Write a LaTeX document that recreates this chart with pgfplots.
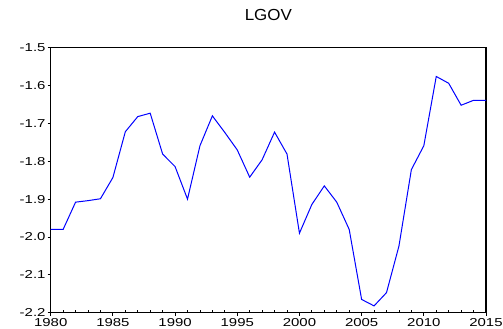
\documentclass[border=0pt]{standalone}
\usepackage{fontspec}
\setmainfont{Liberation Sans}
\newfontfamily\tickfont[FakeStretch=1.3]{Liberation Sans}
\newfontfamily\titlefont[FakeStretch=1.06]{Liberation Sans}
\usepackage{pgfplots}
\pgfplotsset{compat=1.18}
\begin{document}
\begin{tikzpicture}
\begin{axis}[
  name=ax,
  at={(0,0)}, anchor=south west,
  scale only axis,
  width=435.3pt, height=265pt,
  xmin=1980, xmax=2015,
  ymin=-2.2, ymax=-1.5,
  axis line style={black, line width=1.1pt},
  xtick={1980,1985,1990,1995,2000,2005,2010,2015},
  xticklabels={1980,1985,1990,1995,2000,2005,2010,2015},
  ytick={-2.2,-2.1,-2.0,-1.9,-1.8,-1.7,-1.6,-1.5},
  yticklabels={-2.2,-2.1,-2.0,-1.9,-1.8,-1.7,-1.6,-1.5},
  minor x tick num=4,
  xtick pos=bottom, ytick pos=left,
  tick align=outside,
  major tick length=3pt,
  minor tick length=2.5pt,
  minor x tick style={yshift=2.5pt},
  tick style={black, line width=0.8pt},
  xticklabel style={font=\tickfont\fontsize{11.5}{12}\selectfont, anchor=north, inner sep=0pt, yshift=-2.5pt},
  yticklabel style={font=\tickfont\fontsize{11.5}{12}\selectfont, anchor=east, inner sep=0pt, xshift=-2pt},
  title={LGOV},
  title style={font=\titlefont\fontsize{16}{16}\selectfont, at={(0.5,1)}, anchor=base, yshift=20.7pt, inner sep=0pt},
  clip=false,
]
\addplot[blue, line width=1pt] coordinates {
(1980,-1.980) (1981,-1.980) (1982,-1.908) (1983,-1.904) (1984,-1.899)
(1985,-1.843) (1986,-1.722) (1987,-1.682) (1988,-1.673) (1989,-1.781)
(1990,-1.814) (1991,-1.900) (1992,-1.759) (1993,-1.680) (1994,-1.724)
(1995,-1.770) (1996,-1.842) (1997,-1.796) (1998,-1.723) (1999,-1.781)
(2000,-1.990) (2001,-1.914) (2002,-1.865) (2003,-1.908) (2004,-1.980)
(2005,-2.165) (2006,-2.182) (2007,-2.147) (2008,-2.024) (2009,-1.822)
(2010,-1.759) (2011,-1.576) (2012,-1.594) (2013,-1.652) (2014,-1.639)
(2015,-1.639)
};
\end{axis}
\path ([shift={(-50.7pt,-16.3pt)}]ax.south west) rectangle ++(503pt,329pt);
\end{tikzpicture}
\end{document}
